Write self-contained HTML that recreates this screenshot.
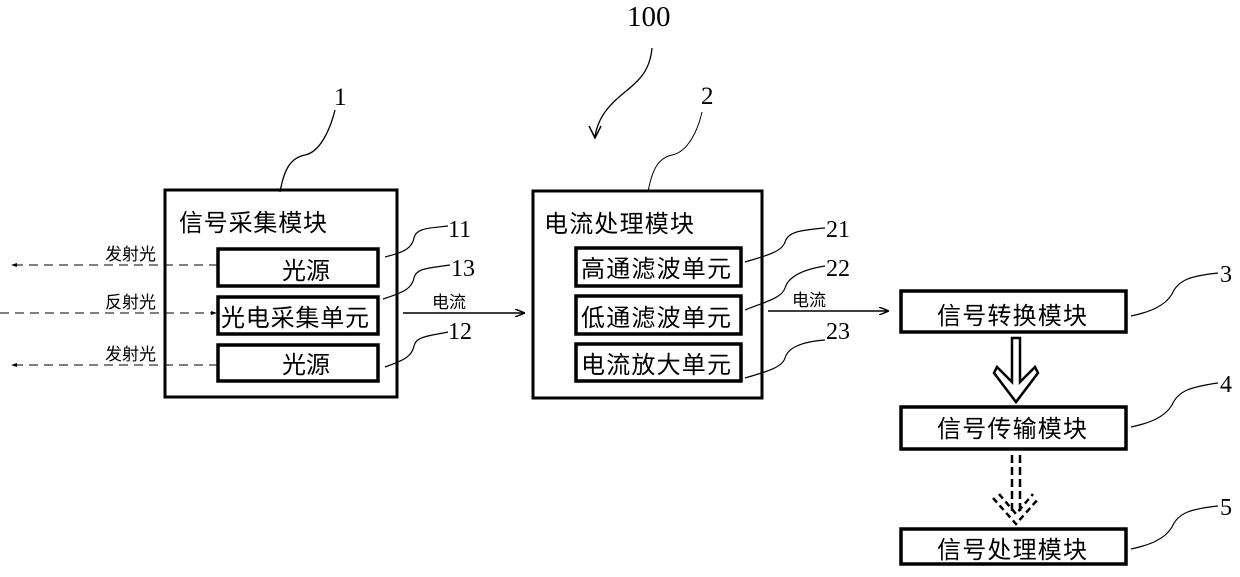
<!DOCTYPE html>
<html><head><meta charset="utf-8"><style>
html,body{margin:0;padding:0;background:#fff;}
svg{display:block;}
.cn{font-family:"Liberation Sans","Noto Sans CJK SC",sans-serif;fill:#000;}
.num{font-family:"Liberation Serif",serif;fill:#000;}
</style></head><body>
<svg width="1240" height="577" viewBox="0 0 1240 577" xmlns="http://www.w3.org/2000/svg">
<defs>
<marker id="ah" markerWidth="10" markerHeight="8" refX="9" refY="4" orient="auto" markerUnits="userSpaceOnUse"><path d="M0,0 L10,4 L0,8" fill="none" stroke="#000" stroke-width="1.5"/></marker>
<marker id="sm" markerWidth="6" markerHeight="4" refX="5" refY="2" orient="auto" markerUnits="userSpaceOnUse"><path d="M0,0 L6,2 L0,4Z" fill="#000"/></marker>
</defs>
<g fill="none" stroke="#000">
<rect x="165" y="190" width="232" height="207" stroke-width="3"/>
<rect x="218" y="249" width="160" height="37" stroke-width="3.5"/>
<rect x="218" y="297" width="160" height="37" stroke-width="3.5"/>
<rect x="218" y="345" width="160" height="36" stroke-width="3.5"/>
<rect x="533" y="191" width="229" height="207" stroke-width="3"/>
<rect x="576" y="248" width="165" height="38" stroke-width="3.5"/>
<rect x="576" y="296" width="165" height="38" stroke-width="3.5"/>
<rect x="576" y="344" width="165" height="37" stroke-width="3.5"/>
<rect x="901" y="291" width="225" height="41" stroke-width="3.5"/>
<rect x="901" y="407" width="225" height="42" stroke-width="3.5"/>
<rect x="901" y="529" width="225" height="35" stroke-width="3.5"/>
<path d="M218,265 H12" stroke-width="1" stroke-dasharray="9,6" marker-end="url(#sm)"/>
<path d="M0,313 H216" stroke-width="1" stroke-dasharray="9,6" marker-end="url(#sm)"/>
<path d="M218,365 H12" stroke-width="1" stroke-dasharray="9,6" marker-end="url(#sm)"/>
<path d="M403,313 H524" stroke-width="1.5" marker-end="url(#ah)"/>
<path d="M768,311 H888" stroke-width="1.5" marker-end="url(#ah)"/>
<path d="M280,192 C284,170 290,158 305,155 C320,152 330,130 335,110" stroke-width="1.3"/>
<path d="M648,192 C652,170 658,158 672,155 C688,152 698,130 702,112"/>
<path d="M652,48 C650,70 640,80 625,92 C605,108 598,120 595,136" stroke-width="1.3"/>
<path d="M589,126 L595,138 L601,126" stroke-width="1.5"/>
<path d="M385,257 C405,252 412,248 414,238 C416,228 430,228 448,226" stroke-width="1.2"/>
<path d="M383,299 C405,292 412,288 414,278 C416,268 430,268 450,265" stroke-width="1.2"/>
<path d="M385,367 C405,360 412,356 414,346 C416,336 430,336 448,332" stroke-width="1.2"/>
<path d="M745,262 C765,256 782,252 785,242 C788,232 800,230 825,228" stroke-width="1.2"/>
<path d="M745,310 C765,302 782,298 785,288 C788,278 800,270 825,266" stroke-width="1.2"/>
<path d="M745,378 C765,372 782,368 785,358 C788,348 800,342 825,340" stroke-width="1.2"/>
<path d="M1131,316 C1150,312 1165,306 1172,294 C1178,280 1190,276 1218,273" stroke-width="1.2"/>
<path d="M1131,427 C1150,423 1165,417 1172,405 C1178,391 1190,387 1218,383" stroke-width="1.2"/>
<path d="M1131,549 C1150,545 1165,539 1172,527 C1178,513 1190,509 1218,506" stroke-width="1.2"/>
<path d="M1012,338 V382 L997,367 L994,373 L1016,402 L1038,373 L1035,367 L1020,382 V338 Z" stroke-width="2.5" fill="#fff"/>
<path d="M1012,455 V512 M1020,455 V512" stroke-width="2.5" stroke-dasharray="8,4"/>
<path d="M993,498 L1016,524 L1039,498 M999,494 L1016,514 L1033,494" stroke-width="2.5" stroke-dasharray="6,4"/>
</g>
<text class="num" x="627" y="26" font-size="29">100</text>
<text class="num" x="334" y="105" font-size="25">1</text>
<text class="num" x="701" y="104" font-size="25">2</text>
<text class="num" x="448" y="237" font-size="24">11</text>
<text class="num" x="451" y="276" font-size="24">13</text>
<text class="num" x="448" y="339" font-size="24">12</text>
<text class="num" x="826" y="237" font-size="24">21</text>
<text class="num" x="826" y="276" font-size="24">22</text>
<text class="num" x="826" y="339" font-size="24">23</text>
<text class="num" x="1220" y="282" font-size="24">3</text>
<text class="num" x="1220" y="392" font-size="24">4</text>
<text class="num" x="1220" y="515" font-size="24">5</text>
<text class="cn" x="179" y="231" font-size="24" textLength="148">信号采集模块</text>
<text class="cn" x="282" y="279" font-size="24">光源</text>
<text class="cn" x="221" y="326" font-size="24" textLength="148">光电采集单元</text>
<text class="cn" x="282" y="373" font-size="24">光源</text>
<text class="cn" x="105" y="260" font-size="17">发射光</text>
<text class="cn" x="105" y="308" font-size="17">反射光</text>
<text class="cn" x="105" y="360" font-size="17">发射光</text>
<text class="cn" x="432" y="308" font-size="17">电流</text>
<text class="cn" x="544" y="232" font-size="24" textLength="150">电流处理模块</text>
<text class="cn" x="581" y="277" font-size="24" textLength="150">高通滤波单元</text>
<text class="cn" x="581" y="326" font-size="24" textLength="150">低通滤波单元</text>
<text class="cn" x="581" y="373" font-size="24" textLength="150">电流放大单元</text>
<text class="cn" x="792" y="306" font-size="17">电流</text>
<text class="cn" x="937" y="324" font-size="24" textLength="150">信号转换模块</text>
<text class="cn" x="937" y="437" font-size="24" textLength="150">信号传输模块</text>
<text class="cn" x="937" y="558" font-size="24" textLength="150">信号处理模块</text>
</svg>
</body></html>
